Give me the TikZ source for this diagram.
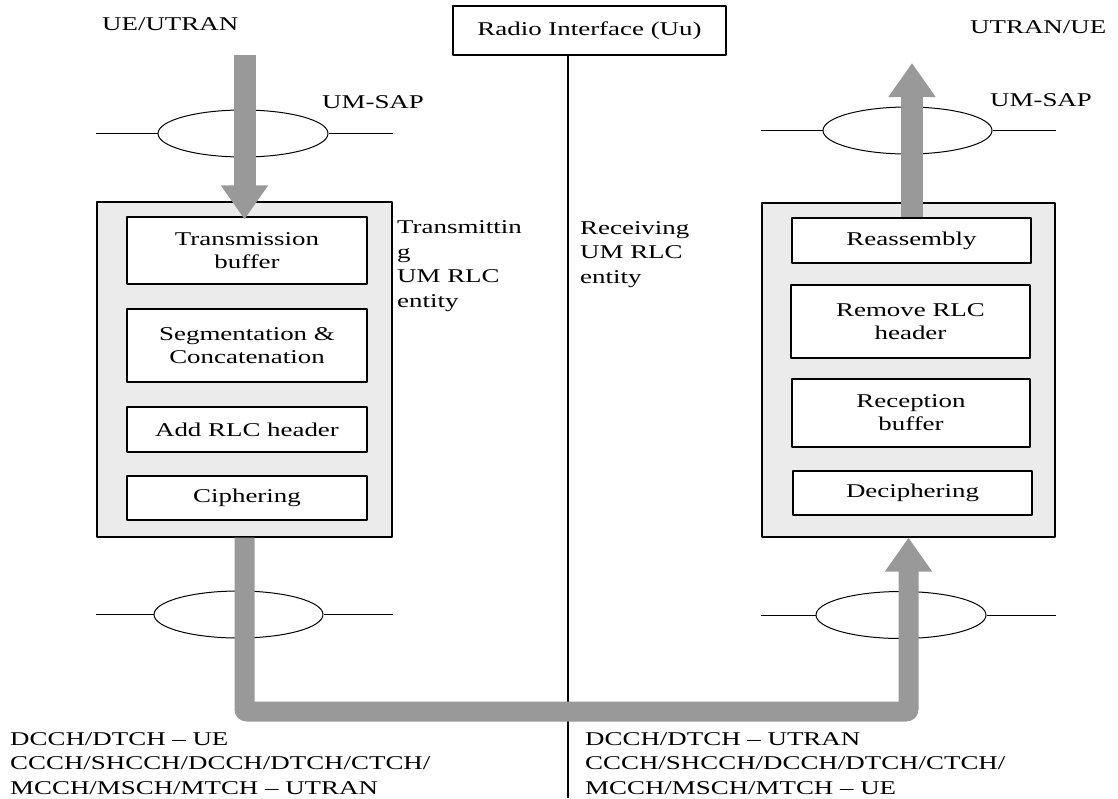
\documentclass[tikz,border=0pt]{standalone}
\usepackage{fontspec}
\setmainfont{Liberation Serif}[FakeStretch=1.38]
\usetikzlibrary{arrows.meta,shapes.geometric}
\definecolor{flowgray}{RGB}{153,153,153}
\begin{document}
\begin{tikzpicture}[x=1pt,y=-1pt,line join=round,>=stealth,
    font=\fontsize{19.5pt}{23pt}\selectfont,
    entity/.style={draw,line width=1.2pt,fill=black!8,inner sep=0pt},
    func/.style={draw,line width=1.2pt,fill=white,align=center,inner sep=0pt,minimum width=240pt},
    sap/.style={draw,ellipse,line width=1pt,minimum width=170pt,minimum height=47pt,inner sep=0pt},
    lbl/.style={inner sep=0pt,anchor=base west,align=left,font=\fontsize{19.5pt}{24.5pt}\selectfont},
    bigarrow/.style={draw=flowgray,line width=22pt,-{Triangle[width=45pt,length=34pt]}}]
  \useasboundingbox (0,0) rectangle (1118,798);
  % the two UM RLC entities
  \node[entity,minimum width=295pt,minimum height=335pt] (tx) at (244.5,369.5) {};
  \node[entity,minimum width=293pt,minimum height=334pt] (rx) at (908.5,370) {};
  \node[func,minimum height=67pt] (txbuf) at (247,250.5) {Transmission\\buffer};
  \node[func,minimum height=73pt] (seg) at (247,345.5) {Segmentation \&\\Concatenation};
  \node[func,minimum height=45pt] (addhdr) at (247,429.5) {Add RLC header};
  \node[func,minimum height=44pt] (cipher) at (247,498) {Ciphering};
  \node[func,minimum width=239pt,minimum height=45pt] (reasm) at (911.5,240.5) {Reassembly};
  \node[func,minimum width=239pt,minimum height=73pt] (rmhdr) at (910.5,321.5) {Remove RLC\\header};
  \node[func,minimum width=238pt,minimum height=68pt] (rxbuf) at (911,413) {Reception\\buffer};
  \node[func,minimum width=239pt,minimum height=44pt] (decipher) at (912.5,493) {Deciphering};
  % radio interface
  \node[draw,line width=1.2pt,minimum width=273pt,minimum height=49pt,inner sep=0pt] (radio) at (589.5,30.5) {Radio Interface (Uu)};
  \coordinate (ifbot) at (568,798);
  \draw[line width=1.2pt] (radio.south -| ifbot) -- (ifbot);
  % labels (multi-line ones sit on their last baseline)
  \node[lbl] (uetop) at (102,30) {UE/UTRAN};
  \node[lbl] (utrantop) at (970,33) {UTRAN/UE};
  \node[lbl] (umsapTx) at (322,108) {UM-SAP};
  \node[lbl] (umsapRx) at (990,106) {UM-SAP};
  \node[lbl] (txname) at (397,307) {Transmittin\\g\\UM RLC\\entity};
  \node[lbl] (rxname) at (580,283) {Receiving\\UM RLC\\entity};
  \node[lbl] (chTx) at (10,794) {DCCH/DTCH – UE\\CCCH/SHCCH/DCCH/DTCH/CTCH/\\MCCH/MSCH/MTCH – UTRAN};
  \node[lbl] (chRx) at (585,794) {DCCH/DTCH – UTRAN\\CCCH/SHCCH/DCCH/DTCH/CTCH/\\MCCH/MSCH/MTCH – UE};
  % service access points
  \node[sap] (sapTxU) at (243,133.5) {};
  \node[sap,minimum width=169pt] (sapRxU) at (907.5,130.5) {};
  \node[sap,minimum width=169pt] (sapTxL) at (238.5,614.5) {};
  \node[sap] (sapRxL) at (901,615) {};
  \foreach \s/\e in {sapTxU/tx,sapTxL/tx,sapRxU/rx,sapRxL/rx}
    \draw[line width=1pt] (\e.west |- \s) -- (\s.west) (\s.east) -- (\e.east |- \s);
  % data flow
  \coordinate (txin) at (244.5,55);
  \draw[bigarrow,shorten >=-3pt] (txin) -- (txin |- txbuf.north);
  \coordinate (rxout) at (912,63);
  \draw[bigarrow] (reasm.north -| rxout) -- (rxout);
  \coordinate (bend) at (908.5,711.5);
  \draw[bigarrow,line width=20pt,rounded corners=2pt] (tx.south) |- (bend) -- (rx.south);
\end{tikzpicture}
\end{document}
